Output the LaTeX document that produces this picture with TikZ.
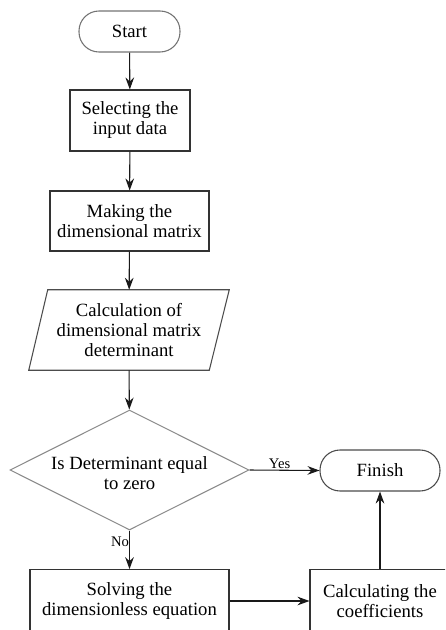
\documentclass[tikz,border=0pt]{standalone}
\usepackage{fontspec}
\setmainfont{Liberation Serif}
\usetikzlibrary{shapes.geometric,arrows.meta}
\begin{document}
\begin{tikzpicture}[x=0.75pt,y=-0.75pt,
  txt/.style={font=\fontsize{14}{15}\selectfont, align=center},
  box/.style={txt, draw=black!80, line width=0.8pt, inner sep=0pt},
  term/.style={txt, draw=black!55, line width=0.8pt, rounded corners=15pt, inner sep=0pt},
  lab/.style={font=\fontsize{11}{12}\selectfont, inner sep=1pt},
  arr/.style={-{Stealth[length=9pt,width=6.5pt,inset=3pt]}, line width=0.8pt, draw=black!90}]
\useasboundingbox (0,0) rectangle (445,630);
\clip (0,0) rectangle (445,630);
\node[term, minimum width=75.75pt, minimum height=30.75pt] (start) at (129.5,31.5) {Start};
\node[box, minimum width=90pt, minimum height=45.75pt] (sel) at (130,120.5) {Selecting the\\input data};
\node[box, minimum width=119.25pt, minimum height=45pt] (mak) at (129.5,221) {Making the\\dimensional matrix};
\node[txt, minimum width=135pt, minimum height=60pt, inner sep=0pt] (calc) at (129,330) {Calculation of\\dimensional matrix\\determinant};
\draw[black!70, line width=0.8pt] ([xshift=6.75pt]calc.north west) -- ([xshift=7.5pt]calc.north east)
  -- ([xshift=-7.5pt]calc.south east) -- ([xshift=-7.5pt]calc.south west) -- cycle;
\node[shape=diamond, draw=black!45, line width=0.8pt, minimum width=179.25pt, minimum height=90pt, inner sep=0pt,
  label={[txt, yshift=-2pt]center:Is Determinant equal\\to zero}] (dec) at (129.5,470) {};
\node[term, draw=black!70, minimum width=90pt, minimum height=30.75pt] (fin) at (380,470.5) {Finish};
\node[box, minimum width=149.25pt, minimum height=47pt] (sol) at (129.5,601) {Solving the\\dimensionless equation};
\node[box, minimum width=105pt, minimum height=47pt] (coef) at (380,601) {Calculating the\\coefficients};
\draw[arr] (start) -- (sel);
\draw[arr] (sel) -- (mak);
\draw[arr] (mak) -- (calc);
\draw[arr] (calc) -- (dec);
\draw[arr] (dec.east) -- node[lab, above, pos=0.43] {Yes} (fin.west);
\draw[arr] (dec.south) -- node[lab, left, pos=0.3, inner sep=0pt] {No} (sol.north);
\draw[arr] (sol.east |- coef.west) -- (coef.west);
\draw[arr] (coef) -- (fin);
\end{tikzpicture}
\end{document}
